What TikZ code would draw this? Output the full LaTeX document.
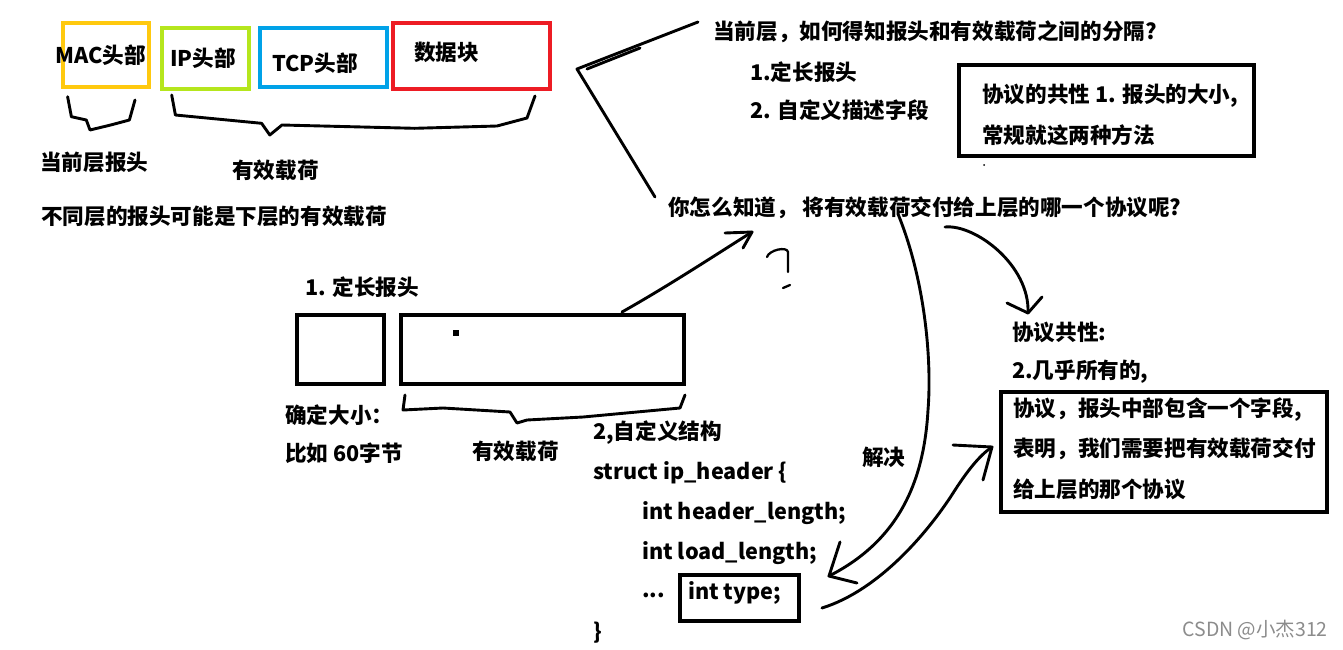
\documentclass[tikz,border=0pt]{standalone}
\usepackage{fontspec}
\setmainfont{Noto Sans CJK SC}
\usetikzlibrary{arrows.meta}
\definecolor{pyellow}{HTML}{FFC90E}
\definecolor{pgreen}{HTML}{B5E61D}
\definecolor{pblue}{HTML}{00A2E8}
\definecolor{pred}{HTML}{ED1C24}
\tikzset{
  txt/.style={anchor=west, inner sep=0pt, font=\fontsize{21.6}{25}\selectfont\bfseries},
  hand/.style={line width=2.9pt, line cap=round, line join=round},
  pbox/.style={line width=4.5pt, inner sep=0pt},
}
\begin{document}
\begin{tikzpicture}[x=1pt,y=-1pt]
\useasboundingbox[fill=white] (0,0) rectangle (1343,649);

% top coloured boxes
\node[pbox, draw=pyellow, minimum width=86pt, minimum height=64pt] (macbox) at (106,55) {};
\node[pbox, draw=pgreen, minimum width=87pt, minimum height=61pt] (ipbox) at (205.5,58.5) {};
\node[pbox, draw=pblue, minimum width=127pt, minimum height=59pt] (tcpbox) at (323.5,57.5) {};
\node[pbox, draw=pred, minimum width=157pt, minimum height=66pt] (databox) at (471.5,56) {};
\node[txt] (mac) at (55,55) {MAC头部};
\node[txt] (ip) at (170,58) {IP头部};
\node[txt] (tcp) at (272,63) {TCP头部};
\node[txt] (data) at (414,52) {数据块};

% braces
\draw[hand] (67.6,96.7) -- (71.4,116.7) -- (86.3,120) -- (90,130) -- (110.7,125) -- (129.4,120) -- (135,100);
\draw[hand] (171.7,95) -- (175.4,115) -- (261.6,123.3) -- (269.8,135) -- (282,125) -- (414.7,128.3) -- (497,126) -- (527,118) -- (535,96);
\node[txt] (curhdr) at (40,162) {当前层报头};
\node[txt] (payload1) at (232,170) {有效载荷};
\node[txt] (note1) at (41,216) {不同层的报头可能是下层的有效载荷};

% upper right texts
\node[txt] (q1) at (713,32) {当前层，如何得知报头和有效载荷之间的分隔?};
\node[txt] (m1) at (750,72) {1.定长报头};
\node[txt] (m2) at (750,110) {2. 自定义描述字段};
\node[pbox, draw, line width=4pt, minimum width=295pt, minimum height=91pt] (common1) at (1106.5,110.5) {};
\node[txt] (c1) at (982,96) {协议的共性 1. 报头的大小,};
\node[txt] (c2) at (982,135) {常规就这两种方法};
\fill (984,165) circle (1pt);

% polyline from boxes to questions
\coordinate (pa) at (698,22);
\coordinate (pv) at (577,69);
\coordinate (pb) at (655,197);
\draw[hand] (pa) -- (pv) -- (pb);
\draw[hand] ([xshift=10pt]pv) -- (640,48);

\node[txt] (q2) at (668,208) {你怎么知道， 将有效载荷交付给上层的哪一个协议呢?};

% fixed-length header
\node[txt] (f1) at (305,287) {1. 定长报头};
\node[pbox, draw, line width=4pt, minimum width=87pt, minimum height=69pt] (hbox) at (340.5,349.5) {};
\node[pbox, draw, line width=4pt, minimum width=283pt, minimum height=69pt] (lbox) at (542.5,349.5) {};
\fill (453,330) rectangle (459,336);
\node[txt] (fixsz) at (285,415) {确定大小：};
\node[txt] (ex60) at (285,453) {比如 60字节};
\draw[hand] (405,395) -- (403,410) -- (443,408) -- (510,412) -- (517,423) -- (527,420) -- (583,417) -- (680,408) -- (685,395);
\node[txt] (payload2) at (472,451) {有效载荷};

% arrow from payload box to question
\coordinate (a1s) at (622,312);
\coordinate (a1t) at (752,232);
\draw[hand] (a1s) .. controls (670,285) and (720,252) .. (a1t);
\draw[hand] (725,233) -- (a1t) -- (743,248);
% question mark
\draw[hand, line width=2.3pt] (767,257) .. controls (769,250) and (787,246) .. (788,252) -- (788,272);
\draw[hand, line width=2.3pt] (783,288) -- (790,285);

% struct
\node[txt] (s0) at (593,433) {2,自定义结构};
\node[txt] (s1) at (593,473) {struct ip\_header \{};
\node[txt] (s2) at (642,513) {int header\_length;};
\node[txt] (s3) at (642,553) {int load\_length;};
\node[txt] (s4) at (642,595) {...};
\node[pbox, draw, line width=4pt, minimum width=119pt, minimum height=46pt] (typebox) at (739.5,598) {};
\node[txt] (s5) at (688,593) {int type;};
\node[txt] (s6) at (593,633) {\}};

% big curve: question -> type
\coordinate (b1s) at (898,214);
\coordinate (b1t) at (829,576);
\draw[hand] (b1s) .. controls (925,280) and (932,360) .. (928,410) .. controls (924,480) and (900,540) .. (b1t);
\draw[hand] (840,542) -- (b1t) -- (857,583);
\node[txt] (solve) at (862,457) {解决};

% curve: type -> right box
\coordinate (c1s) at (822,608);
\coordinate (c1t) at (992,447);
\draw[hand] (c1s) .. controls (880,590) and (930,530) .. (955,490) .. controls (968,470) and (980,455) .. (c1t);
\draw[hand] (953,445) -- (c1t) -- (983,480);

% curve: question -> common
\coordinate (d1s) at (945,227);
\coordinate (d1t) at (1028,313);
\draw[hand] (d1s) .. controls (975,224) and (1030,265) .. (d1t);
\draw[hand] (1007,303) -- (d1t) -- (1042,297);

% right texts
\node[txt] (r1) at (1012,332) {协议共性:};
\node[txt] (r2) at (1012,372) {2.几乎所有的,};
\node[pbox, draw, line width=4pt, minimum width=326pt, minimum height=120pt] (rbox) at (1164,452) {};
\node[txt] (r3) at (1013,410) {协议，报头中部包含一个字段,};
\node[txt] (r4) at (1013,449) {表明，我们需要把有效载荷交付};
\node[txt] (r5) at (1013,489) {给上层的那个协议};

\node[anchor=east, inner sep=0pt, text=black!45, font=\fontsize{19.5}{21}\selectfont] (wm) at (1328,630) {CSDN @小杰312};
\end{tikzpicture}
\end{document}
